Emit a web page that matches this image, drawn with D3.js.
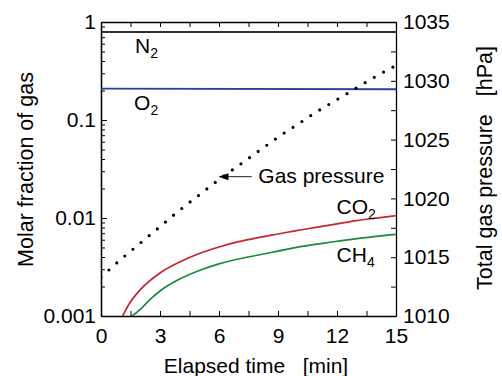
<!DOCTYPE html>
<html>
<head>
<meta charset="utf-8">
<script src="https://cdn.jsdelivr.net/npm/d3@7"></script>
<style>
body { margin: 0; background: #fff; }
svg text { font-family: "Liberation Sans", Arial, sans-serif; fill: #000; }
</style>
</head>
<body>
<svg id="chart" width="502" height="376"></svg>
<script>
const timeTicks = [0, 1.5, 3, 4.5, 6, 7.5, 9, 10.5, 12, 13.5, 15];
const fractionMajor = [0.001, 0.01, 0.1, 1];
const fractionLabels = ["0.001", "0.01", "0.1", "1"];
const pressureTicks = [1010, 1012.5, 1015, 1017.5, 1020, 1022.5, 1025, 1027.5, 1030, 1032.5, 1035];

const pressureTime = [0, 1, 2, 3, 4, 5, 6, 7, 8, 9, 10, 11, 12, 13, 14, 15];
const pressureValues = [1013.3, 1014.8, 1016.2, 1017.6, 1019.0, 1020.3, 1021.6, 1022.8,
			1024.0, 1025.2, 1026.3, 1027.4, 1028.4, 1029.4, 1030.4, 1031.3];

const n2Time = [0, 15];
const n2Values = [0.79, 0.79];
const o2Time = [0, 15];
const o2Values = [0.209, 0.206];

const co2Time = [1.1, 1.4, 2, 3, 4, 5, 6, 7, 8, 9, 10, 11, 12, 13, 14, 15];
const co2Values = [0.00100, 0.00130, 0.00186, 0.00275, 0.00356, 0.00434, 0.00506, 0.00574,
		   0.00631, 0.00687, 0.00748, 0.00807, 0.00871, 0.00942, 0.00998, 0.01055];
const ch4Time = [1.58, 2, 2.5, 3, 4, 5, 6, 7, 8, 9, 10, 11, 12, 13, 14, 15];
const ch4Values = [0.00100, 0.00117, 0.00148, 0.00180, 0.00238, 0.00291, 0.00340, 0.00382,
		   0.00419, 0.00459, 0.00504, 0.00541, 0.00579, 0.00617, 0.00649, 0.00682];

const margin = { left: 101, top: 22, right: 106, bottom: 60 };
const svg = d3.select("#chart");
const width = +svg.attr("width") - margin.left - margin.right,
      height = +svg.attr("height") - margin.top - margin.bottom;

const x = d3.scaleLinear().domain([0, 15]).range([0, width]);
const yFrac = d3.scaleLog().domain([0.001, 1]).range([height, 0]);
const yPres = d3.scaleLinear().domain([1010, 1035]).range([height, 0]);

const chart = svg.append("g")
      .attr("transform", `translate(${margin.left},${margin.top})`);

chart.append("clipPath").attr("id", "plot-clip")
    .append("rect").attr("width", width).attr("height", height);

function zip(ts, vs) {
    return ts.map((t, i) => ({ t: t, v: vs[i] }));
}

function styleAxis(g) {
    g.selectAll(".domain").attr("stroke", "#000").attr("stroke-width", 1.3);
    g.selectAll(".tick line").attr("stroke", "#000").attr("stroke-width", 1);
    g.selectAll("text").attr("font-size", 21).style("font-family", "Liberation Sans, Arial, sans-serif");
}

/* AXES
 */

chart.append("g")
    .attr("transform", `translate(0,${height})`)
    .call(d3.axisBottom(x).tickValues(timeTicks)
	  .tickSizeInner(-5).tickSizeOuter(0).tickPadding(12)
	  .tickFormat((d) => (d % 3 == 0) ? d : ""))
    .call(styleAxis);

chart.append("g")
    .call(d3.axisTop(x).tickValues(timeTicks)
	  .tickSizeInner(-5).tickSizeOuter(0).tickFormat(""))
    .call(styleAxis);

const fractionMinor = [];
fractionMajor.slice(0, 3).forEach(function(base) {
    for (let k = 2; k <= 9; k++) fractionMinor.push(base * k);
});

chart.append("g")
    .call(d3.axisLeft(yFrac).tickValues(fractionMinor)
	  .tickSizeInner(-4).tickSizeOuter(0).tickFormat(""))
    .call(styleAxis);

chart.append("g")
    .call(d3.axisLeft(yFrac).tickValues(fractionMajor)
	  .tickSizeInner(-6).tickSizeOuter(0).tickPadding(5)
	  .tickFormat((d, i) => fractionLabels[i]))
    .call(styleAxis);

chart.append("g")
    .attr("transform", `translate(${width},0)`)
    .call(d3.axisRight(yPres).tickValues(pressureTicks)
	  .tickSizeInner(-5).tickSizeOuter(0).tickPadding(7)
	  .tickFormat((d) => (d % 5 == 0) ? d : ""))
    .call(styleAxis);

/* SERIES
 */

const fracLine = d3.line()
      .curve(d3.curveMonotoneX)
      .x((d) => x(d.t))
      .y((d) => yFrac(d.v));

const presLine = d3.line()
      .curve(d3.curveMonotoneX)
      .x((d) => x(d.t))
      .y((d) => yPres(d.v));

const plot = chart.append("g").attr("clip-path", "url(#plot-clip)");

const gasSeries = [
    { name: "N2", data: zip(n2Time, n2Values), color: "#2e2e2e", w: 1.9 },
    { name: "O2", data: zip(o2Time, o2Values), color: "#2b3f9c", w: 1.8 },
    { name: "CO2", data: zip(co2Time, co2Values), color: "#c1272d", w: 1.7 },
    { name: "CH4", data: zip(ch4Time, ch4Values), color: "#1b8a3e", w: 1.7 }
];

plot.selectAll(".gas")
    .data(gasSeries)
    .enter().append("path")
    .attr("class", "gas")
    .attr("d", (d) => fracLine(d.data))
    .style("fill", "none")
    .style("stroke", (d) => d.color)
    .style("stroke-width", (d) => d.w);

plot.append("path")
    .attr("d", presLine(zip(pressureTime, pressureValues)))
    .style("fill", "none")
    .style("stroke", "#000")
    .style("stroke-width", 3.2)
    .style("stroke-linecap", "round")
    .style("stroke-dasharray", "0 10.6");

/* LABELS
 */

function gasLabel(main, sub, px, py) {
    const t = chart.append("text").attr("x", px).attr("y", py).attr("font-size", 21);
    t.append("tspan").text(main);
    t.append("tspan").attr("font-size", 14).attr("dy", 5).text(sub);
}

gasLabel("N", "2", x(1.73), yFrac(0.79) + 21);
gasLabel("O", "2", x(1.68), yFrac(0.209) + 21.5);
gasLabel("CO", "2", x(11.98), yFrac(0.0093) - 7);
gasLabel("CH", "4", x(11.98), yFrac(0.0054) + 18);

const tip = { t: 5.97, v: 1021.85 };
const tail = { t: 7.66, v: 1021.85 };

chart.append("line")
    .attr("x1", x(tip.t) + 8).attr("y1", yPres(tip.v))
    .attr("x2", x(tail.t)).attr("y2", yPres(tail.v))
    .attr("stroke", "#333").attr("stroke-width", 1.1);

chart.append("path")
    .attr("d", d3.line()([[x(tip.t), yPres(tip.v)],
			  [x(tip.t) + 10, yPres(tip.v) - 3.5],
			  [x(tip.t) + 10, yPres(tip.v) + 3.5]]) + "Z")
    .attr("fill", "#000");

chart.append("text")
    .attr("x", x(8.0)).attr("y", yPres(tip.v) + 6.6)
    .attr("font-size", 21)
    .text("Gas pressure");

/* TITLES
 */

svg.append("text")
    .attr("transform", "translate(33,169.5) rotate(-90)")
    .attr("text-anchor", "middle")
    .attr("font-size", 21.5)
    .text("Molar fraction of gas");

svg.append("text")
    .attr("transform", "translate(491.5,168) rotate(-90)")
    .attr("text-anchor", "middle")
    .attr("font-size", 21.5)
    .style("white-space", "pre")
    .text("Total gas pressure\u00a0\u00a0\u00a0[hPa]");

svg.append("text")
    .attr("x", 256).attr("y", 373)
    .attr("text-anchor", "middle")
    .attr("font-size", 21)
    .style("white-space", "pre")
    .text("Elapsed time\u00a0\u00a0\u00a0[min]");
</script>
</body>
</html>
